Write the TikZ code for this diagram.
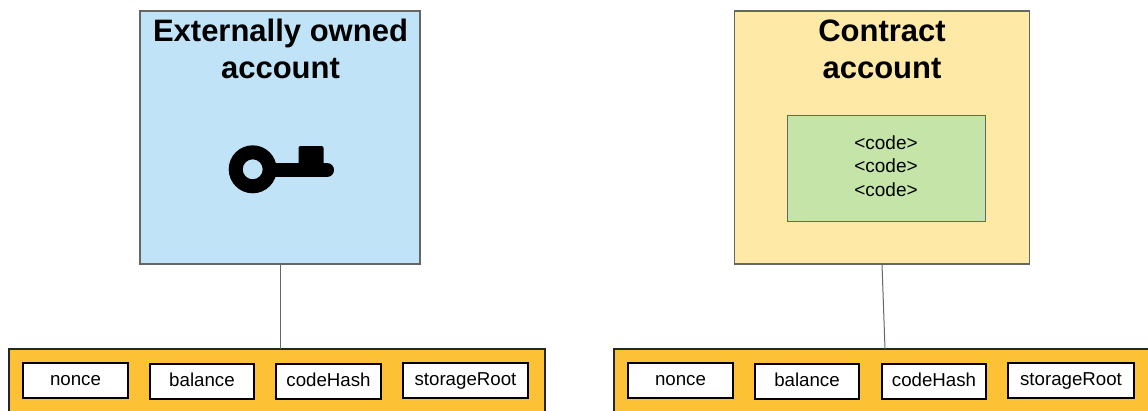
\documentclass[tikz,border=0pt]{standalone}
\usepackage{fontspec}
\setmainfont{Liberation Sans}
\definecolor{eoablue}{HTML}{C0E3F7}
\definecolor{cayellow}{HTML}{FFE9A6}
\definecolor{codegreen}{HTML}{C5E5A8}
\definecolor{fieldorange}{HTML}{FDC136}
\definecolor{edgegray}{HTML}{666666}
\tikzset{
  account/.style={draw=edgegray, line width=1.2pt, outer sep=0pt, inner sep=0pt},
  title/.style={font=\bfseries\fontsize{31}{37}\selectfont, align=center, text=black, inner sep=0pt},
  fields/.style={draw=black!85, fill=fieldorange, line width=2pt, outer sep=0pt, inner sep=0pt},
  field/.style={draw=black, fill=white, line width=2pt, outer sep=0pt, inner sep=0pt,
    minimum height=35pt, text height=13pt, text depth=3pt, font=\fontsize{18.7}{20}\selectfont},
  link/.style={draw=edgegray, line width=1pt},
}
\begin{document}
\begin{tikzpicture}[x=1pt, y=-1pt]
  \clip (0, 0) rectangle (1148, 410);
  \node [account, fill=eoablue, minimum width=280pt, minimum height=253pt] (eoa) at (280, 137.5) {};
  \node [title] (eoat) at (280.5, 49) {Externally owned\\account};
  \fill [black, rounded corners=2pt] (298.5, 170) rectangle (323.5, 146);
  \draw [black, line width=14pt, line cap=round] (275, 170) -- (327, 170);
  \fill [black, even odd rule] (252.7, 169.3) circle [radius=24] (252.7, 169.3) circle [radius=10];
  \node [account, fill=cayellow, minimum width=295pt, minimum height=253pt] (ca) at (882, 137.5) {};
  \node [title] (cat) at (882, 49.5) {Contract\\account};
  \node [account, line width=1pt, fill=codegreen, minimum width=198pt, minimum height=106pt, align=center,
    font=\fontsize{19}{23.5}\selectfont] (code) at (886, 168) {\rule{0pt}{20pt}<code>\\<code>\\<code>\rule[-11pt]{0pt}{11pt}};
  \node [fields, minimum width=536pt, minimum height=76pt] (eoaf) at (277, 387) {};
  \node [field, minimum width=105pt] (n1) at (75.5, 380.5) {nonce};
  \node [field, minimum width=104pt] (b1) at (202, 381.5) {balance};
  \node [field, minimum width=105pt] (c1) at (328.5, 381.5) {codeHash};
  \node [field, minimum width=125pt] (s1) at (465.5, 380.5) {storageRoot};
  \node [fields, minimum width=537pt, minimum height=76pt] (caf) at (882, 387) {};
  \node [field, minimum width=105pt] (n2) at (680.5, 380.5) {nonce};
  \node [field, minimum width=104pt] (b2) at (807, 381.5) {balance};
  \node [field, minimum width=104pt] (c2) at (934, 381.5) {codeHash};
  \node [field, minimum width=126pt] (s2) at (1071, 380.5) {storageRoot};
  \coordinate (caftop) at (885, 349);
  \draw [link] (eoa.south) to (eoaf.north -| eoa.south);
  \draw [link] (ca.south) to (caftop);
\end{tikzpicture}
\end{document}
